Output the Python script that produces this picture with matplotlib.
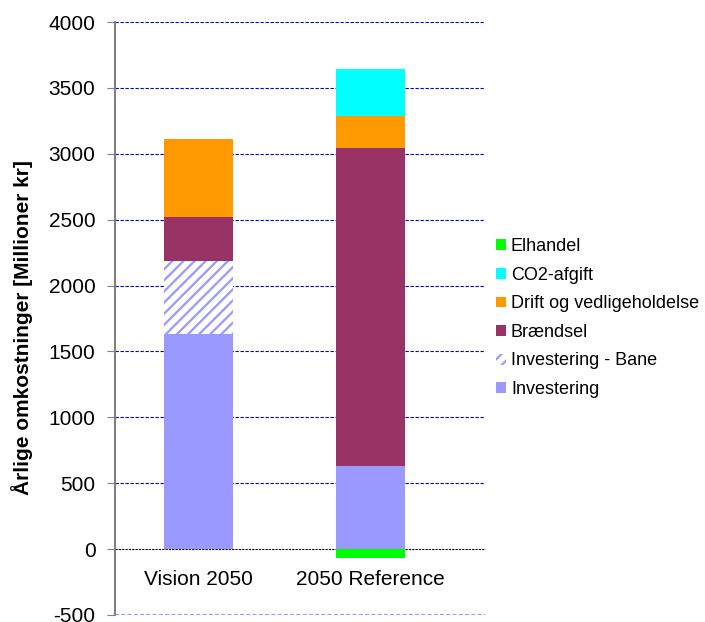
import matplotlib
matplotlib.use("Agg")
import matplotlib.pyplot as plt
from matplotlib.patches import Patch

plt.rcParams['font.family'] = ['Liberation Sans', 'DejaVu Sans']
plt.rcParams['hatch.linewidth'] = 1.6

categories = ["Vision 2050", "2050 Reference"]
investering = [1630, 630]
investering_bane = [560, 0]
braendsel = [330, 2415]
drift = [590, 245]
co2 = [0, 350]
elhandel = [0, -65]

yticks = [-500, 0, 500, 1000, 1500, 2000, 2500, 3000, 3500, 4000]
ylabel = "Årlige omkostninger [Millioner kr]"

c_inv = "#9999FF"
c_br = "#993366"
c_dr = "#FF9900"
c_co2 = "#00FFFF"
c_el = "#00FF00"

fig = plt.figure(figsize=(7.05, 6.22), dpi=100)
ax = fig.add_axes([0.163, 0.0113, 0.525, 0.9533])

x = list(range(len(categories)))
w = 0.40

bottom = [0] * len(x)
def stack(vals, **kw):
    global bottom
    ax.bar(x, vals, w, bottom=bottom, zorder=3, **kw)
    bottom = [b + v for b, v in zip(bottom, vals)]

stack(investering, color=c_inv, linewidth=0)
stack(investering_bane, facecolor="white", edgecolor=c_inv, hatch="///", linewidth=0)
stack(braendsel, color=c_br, linewidth=0)
stack(drift, color=c_dr, linewidth=0)
stack(co2, color=c_co2, linewidth=0)
ax.bar(x, elhandel, w, color=c_el, linewidth=0, zorder=3)

ax.set_ylim(-500, 4000)
ax.set_xlim(-0.485, 1.666)
ax.set_yticks(yticks)
ax.set_yticklabels([str(t) for t in yticks], fontsize=15)
ax.set_xticks([])
for xi, lab in zip(x, categories):
    ax.text(xi, -230, lab, ha='center', va='center', fontsize=15, zorder=4)
ax.tick_params(axis='y', length=6, color="#808080", pad=8)

for t in yticks:
    if t == 0:
        ax.axhline(t, color="black", linestyle=(0, (2, 1)), linewidth=0.8, zorder=2)
    elif t == -500:
        ax.axhline(t, color=c_inv, linestyle=(0, (2, 1)), linewidth=1.5, zorder=2)
    else:
        ax.axhline(t, color="#0000DD", linestyle=(0, (3, 1.5)), linewidth=0.8, zorder=2)

for s in ['top', 'right', 'bottom']:
    ax.spines[s].set_visible(False)
ax.spines['left'].set_color("#808080")
ax.spines['left'].set_linewidth(1.5)

fig.text(0.031, 0.473, ylabel, rotation=90, ha='center', va='center',
         fontsize=15, fontweight='bold')

handles = [
    Patch(facecolor=c_el, label="Elhandel"),
    Patch(facecolor=c_co2, label="CO2-afgift"),
    Patch(facecolor=c_dr, label="Drift og vedligeholdelse"),
    Patch(facecolor=c_br, label="Brændsel"),
    Patch(facecolor="white", edgecolor=c_inv, hatch="///", linewidth=0, label="Investering - Bane"),
    Patch(facecolor=c_inv, label="Investering"),
]
fig.legend(handles=handles, loc='upper left', bbox_to_anchor=(0.703, 0.617),
           frameon=False, fontsize=13, handlelength=0.55, handleheight=0.55,
           handletextpad=0.3, labelspacing=0.64, borderaxespad=0, borderpad=0)

fig.savefig("out.png", dpi=100)
